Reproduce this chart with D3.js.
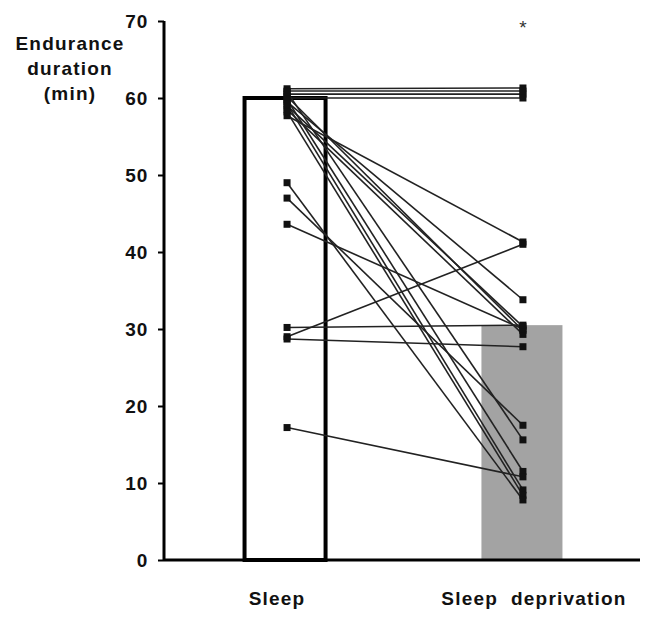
<!DOCTYPE html>
<html>
<head>
<meta charset="utf-8">
<script src="https://cdn.jsdelivr.net/npm/d3@7"></script>
<style>
  body { margin: 0; background: #fff; }
  svg text { font-family: "Liberation Sans", Arial, sans-serif; }
</style>
</head>
<body>
<div id="chart"></div>
<script>
// conditions and bar means
const categories = ["Sleep", "Sleep deprivation"];
const barMeans = [60, 30.5];
const yTicks = [0, 10, 20, 30, 40, 50, 60, 70];

// individual subjects (sleep -> sleep deprivation)
const sleepValues = [61.2, 60.9, 60.5, 60.0, 57.7, 59.5, 59.0, 60.2, 58.5, 60.8,
                     59.8, 59.2, 58.2, 49.0, 47.0, 43.6, 30.2, 29.0, 28.7, 17.2];
const deprivationValues = [61.3, 60.9, 60.5, 60.0, 41.3, 33.8, 30.3, 29.8, 29.3, 15.6,
                           11.5, 9.1, 8.4, 7.8, 17.5, 30.0, 30.5, 41.0, 27.7, 10.8];

const width = 645, height = 623;
const svg = d3.select("#chart").append("svg")
  .attr("width", width)
  .attr("height", height);

const x = d3.scaleBand()
  .domain(categories)
  .range([164, 643])
  .paddingInner(0.658)
  .paddingOuter(0.34);

const y = d3.scaleLinear()
  .domain([0, 70])
  .range([560, 21]);

// bars
svg.selectAll("rect.bar")
  .data(categories)
  .enter().append("rect")
  .attr("class", "bar")
  .attr("x", d => x(d))
  .attr("width", x.bandwidth())
  .attr("y", (d, i) => y(barMeans[i]))
  .attr("height", (d, i) => y(0) - y(barMeans[i]))
  .attr("fill", (d, i) => i === 0 ? "#fff" : "#a3a3a3")
  .attr("stroke", (d, i) => i === 0 ? "#000" : "none")
  .attr("stroke-width", 4);

// y axis
const yAxis = d3.axisLeft(y)
  .tickValues(yTicks)
  .tickSize(6)
  .tickPadding(10);

const gy = svg.append("g")
  .attr("transform", "translate(164,0)")
  .call(yAxis);
gy.select(".domain").attr("stroke", "#000").attr("stroke-width", 3)
  .attr("d", `M0,${y(70)}V${y(0)}`);
gy.selectAll(".tick line").attr("stroke", "#000").attr("stroke-width", 2);
gy.selectAll(".tick text")
  .attr("font-size", 19)
  .attr("font-weight", "bold")
  .attr("letter-spacing", 0.8)
  .attr("fill", "#111");

// x axis line
svg.append("line")
  .attr("x1", 164).attr("x2", 640)
  .attr("y1", y(0)).attr("y2", y(0))
  .attr("stroke", "#000")
  .attr("stroke-width", 3);

// category labels
const labelX = [277, 534];
svg.selectAll("text.cat")
  .data(categories)
  .enter().append("text")
  .attr("class", "cat")
  .attr("x", (d, i) => labelX[i])
  .attr("y", 605)
  .attr("text-anchor", "middle")
  .attr("font-size", 19)
  .attr("font-weight", "bold")
  .attr("letter-spacing", 1.2)
  .attr("fill", "#111")
  .attr("xml:space", "preserve")
  .text(d => d === "Sleep deprivation" ? "Sleep  deprivation" : d);

// y axis title
const title = svg.append("text")
  .attr("text-anchor", "middle")
  .attr("font-size", 19)
  .attr("font-weight", "bold")
  .attr("letter-spacing", 1.2)
  .attr("fill", "#111");
["Endurance", "duration", "(min)"].forEach((t, i) => {
  title.append("tspan")
    .attr("x", 70)
    .attr("y", 50 + i * 25)
    .text(t);
});

// subject lines
const cx0 = x(categories[0]) + x.bandwidth() / 2 + 2;
const cx1 = x(categories[1]) + x.bandwidth() / 2 + 1;
const pairs = sleepValues.map((v, i) => [v, deprivationValues[i]]);

svg.selectAll("line.subj")
  .data(pairs)
  .enter().append("line")
  .attr("class", "subj")
  .attr("x1", cx0).attr("y1", d => y(d[0]))
  .attr("x2", cx1).attr("y2", d => y(d[1]))
  .attr("stroke", "#222")
  .attr("stroke-width", 1.6);

// markers
const sq = 7;
svg.selectAll("rect.m0")
  .data(sleepValues)
  .enter().append("rect")
  .attr("x", cx0 - sq / 2)
  .attr("y", d => y(d) - sq / 2)
  .attr("width", sq).attr("height", sq)
  .attr("fill", "#111");
svg.selectAll("rect.m1")
  .data(deprivationValues)
  .enter().append("rect")
  .attr("x", cx1 - sq / 2)
  .attr("y", d => y(d) - sq / 2)
  .attr("width", sq).attr("height", sq)
  .attr("fill", "#111");

// significance mark
svg.append("text")
  .attr("x", cx1)
  .attr("y", 34)
  .attr("text-anchor", "middle")
  .attr("font-size", 19)
  .attr("fill", "#333")
  .text("*");
</script>
</body>
</html>
